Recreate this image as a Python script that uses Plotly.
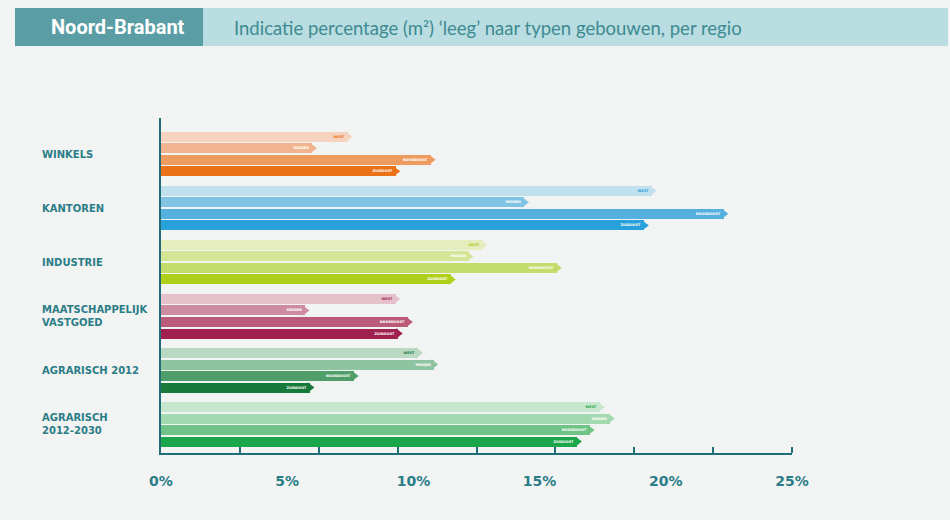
import plotly.graph_objects as go

categories = ["WINKELS", "KANTOREN", "INDUSTRIE", "MAATSCHAPPELIJK<br>VASTGOED",
              "AGRARISCH 2012", "AGRARISCH<br>2012-2030"]
regions = ["WEST", "MIDDEN", "NOORDOOST", "ZUIDOOST"]
west = [7.4, 19.45, 12.75, 9.3, 10.2, 17.4]
midden = [6.0, 14.4, 12.2, 5.7, 10.8, 17.8]
noordoost = [10.7, 22.3, 15.7, 9.8, 7.65, 17.0]
zuidoost = [9.3, 19.15, 11.5, 9.4, 5.9, 16.5]
tick_values = [0, 5, 10, 15, 20, 25]
tick_labels = ["0%", "5%", "10%", "15%", "20%", "25%"]

# colours per category: [west, midden, noordoost, zuidoost]
palette = [
    ["#f6d3bf", "#f1b48f", "#ee9b60", "#ea7117"],
    ["#c0e0ee", "#80c3e3", "#54b0de", "#28a0d9"],
    ["#e5edbd", "#d5e596", "#c4dc6c", "#afcf1a"],
    ["#e5c1cc", "#cd8ca1", "#b95b79", "#a02150"],
    ["#b9d9c3", "#8fc4a1", "#4f9e69", "#17793a"],
    ["#c6e7ce", "#a2d9af", "#70c386", "#1aa64a"],
]
series = [west, midden, noordoost, zuidoost]

TEAL = "#2a7d86"
fig = go.Figure()
pitch = 0.213
for ri, (name, vals) in enumerate(zip(regions, series)):
    ys = [ci + (ri - 1.5) * pitch for ci in range(len(categories))]
    cols = [palette[ci][ri] for ci in range(len(categories))]
    tcol = [palette[ci][3] if ri == 0 else "white" for ci in range(len(categories))]
    fig.add_trace(go.Bar(
        x=vals, y=ys, orientation="h", width=0.185,
        marker=dict(color=cols, line=dict(width=0)),
        text=[name] * len(vals), textposition="inside", insidetextanchor="end",
        textfont=dict(size=6, color=tcol, family="DejaVu Sans", weight="bold"),
        textangle=0, showlegend=False, hoverinfo="x",
    ))
    fig.add_trace(go.Scatter(
        x=vals, y=ys, mode="markers",
        marker=dict(symbol="triangle-right", size=9, color=cols, line=dict(width=0)),
        showlegend=False, hoverinfo="skip",
    ))

for ci, cat in enumerate(categories):
    fig.add_annotation(x=-0.1918, xref="paper", y=ci, yref="y", text="<b>%s</b>" % cat,
                       showarrow=False, xanchor="left", yanchor="middle", align="left",
                       font=dict(family="DejaVu Sans", size=10, color=TEAL))

# header band
fig.add_shape(type="rect", xref="paper", yref="paper", x0=-0.2314, x1=1.2472,
              y0=1.2149, y1=1.3284, fillcolor="#b9dde0", line=dict(width=0), layer="below")
fig.add_shape(type="rect", xref="paper", yref="paper", x0=-0.2314, x1=0.0666,
              y0=1.2149, y1=1.3284, fillcolor="#5a9da4", line=dict(width=0), layer="below")
fig.add_annotation(x=(118 - 161) / 631, xref="paper", y=(453 - 27) / 335, yref="paper",
                   text="<b>Noord-Brabant</b>", showarrow=False, xanchor="center", yanchor="middle",
                   font=dict(family="Roboto", size=20, color="white"))
fig.add_annotation(x=(232 - 161) / 631, xref="paper", y=(453 - 28) / 335, yref="paper",
                   text="Indicatie percentage (m²) ‘leeg’ naar typen gebouwen, per regio",
                   showarrow=False, xanchor="left", yanchor="middle",
                   font=dict(family="Lato", size=18.5, color="#3d8b92"))

fig.update_layout(
    width=950, height=520,
    margin=dict(l=161, r=158, t=118, b=67),
    paper_bgcolor="#f2f3f3", plot_bgcolor="rgba(0,0,0,0)",
    bargap=0,
    xaxis=dict(range=[0, 25], tickvals=tick_values, ticktext=tick_labels,
               showgrid=False, zeroline=False, showline=True, linewidth=2, linecolor="#1f6d77",
               ticks="", ticklabelstandoff=14,
               tickfont=dict(family="DejaVu Sans", size=14, color=TEAL, weight="bold"),
               minor=dict(tickmode="array", tickvals=[3.125 * i for i in range(1, 9)],
                          ticks="inside", ticklen=6, tickwidth=2, tickcolor="#1f6d77")),
    yaxis=dict(range=[5.53, -0.667], showticklabels=False, showgrid=False, zeroline=False,
               showline=True, linewidth=2, linecolor="#1f6d77", ticks=""),
)
fig.write_html("out.html")
